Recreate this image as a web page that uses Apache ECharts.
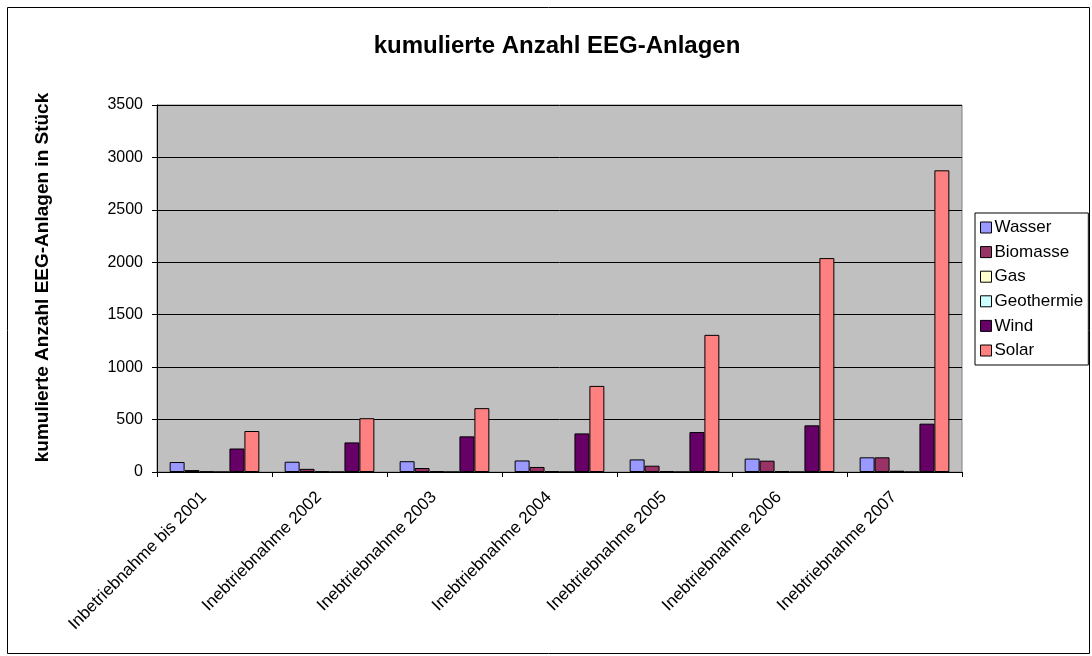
<!DOCTYPE html>
<html>
<head>
<meta charset="utf-8">
<script src="https://cdn.jsdelivr.net/npm/echarts@6/dist/echarts.min.js"></script>
<style>
html,body{margin:0;padding:0;background:#fff;}
#chart{width:1092px;height:656px;}
</style>
</head>
<body>
<div id="chart"></div>
<script>
const categories = ["Inbetriebnahme bis 2001","Inebtriebnahme 2002","Inebtriebnahme 2003","Inebtriebnahme 2004","Inebtriebnahme 2005","Inebtriebnahme 2006","Inebtriebnahme 2007"];
const wasser = [95, 98, 103, 110, 120, 128, 140];
const biomasse = [18, 30, 38, 48, 60, 108, 140];
const gas = [4, 5, 6, 7, 8, 9, 12];
const geothermie = [0, 0, 0, 0, 0, 0, 0];
const wind = [224, 282, 340, 368, 381, 445, 461];
const solar = [391, 513, 609, 821, 1308, 2040, 2877];
const yTicks = [0, 500, 1000, 1500, 2000, 2500, 3000, 3500];

const seriesDefs = [
  {name: "Wasser", data: wasser, color: "#9999FF"},
  {name: "Biomasse", data: biomasse, color: "#993366"},
  {name: "Gas", data: gas, color: "#FFFFCC"},
  {name: "Geothermie", data: geothermie, color: "#CCFFFF"},
  {name: "Wind", data: wind, color: "#660066"},
  {name: "Solar", data: solar, color: "#FF8080"}
];

const font = "Liberation Sans, Arial, sans-serif";
const chart = echarts.init(document.getElementById('chart'));
chart.setOption({
  animation: false,
  backgroundColor: '#fff',
  textStyle: {fontFamily: font},
  graphic: [{
    type: 'rect', left: 5, top: 5,
    shape: {width: 1082, height: 646},
    style: {fill: 'none', stroke: '#000', lineWidth: 1}
  }],
  title: {
    text: 'kumulierte Anzahl EEG-Anlagen',
    left: 552, top: 29, textAlign: 'center',
    textStyle: {fontFamily: font, fontSize: 24, fontWeight: 'bold', color: '#000'}
  },
  legend: {
    orient: 'vertical', left: 975, top: 213,
    itemWidth: 11, itemHeight: 11, itemGap: 7.6,
    borderColor: '#000', borderWidth: 1, padding: [6, 5, 6, 5],
    icon: 'rect',
    textStyle: {fontFamily: font, fontSize: 17, lineHeight: 16, color: '#000', padding: [0,0,0,-2]},
    itemStyle: {borderColor: '#000', borderWidth: 1},
    data: seriesDefs.map(s => s.name)
  },
  grid: {
    left: 157, top: 105, width: 805, height: 367,
    show: true, backgroundColor: '#C0C0C0', borderColor: '#808080', borderWidth: 1,
    containLabel: false
  },
  xAxis: {
    type: 'category', data: categories,
    axisLine: {lineStyle: {color: '#000'}},
    axisTick: {show: true, alignWithLabel: false, length: 5, lineStyle: {color: '#000'}},
    axisLabel: {rotate: 45, fontSize: 17, color: '#000', margin: 12, interval: 0, fontFamily: font, padding: [0, 15, 0, 0]},
    splitLine: {show: false}
  },
  yAxis: {
    type: 'value', min: yTicks[0], max: yTicks[yTicks.length-1], interval: 500,
    name: 'kumulierte Anzahl EEG-Anlagen in Stück',
    nameLocation: 'middle', nameGap: 105, nameRotate: 90,
    nameTextStyle: {fontFamily: font, fontSize: 19, fontWeight: 'bold', color: '#000', padding: [0, 0, 0, 22]},
    axisLine: {show: true, lineStyle: {color: '#000'}},
    axisTick: {show: true, length: 5, lineStyle: {color: '#000'}},
    axisLabel: {fontSize: 16, color: '#000', margin: 14, fontFamily: font, formatter: v => String(v)},
    splitLine: {show: true, lineStyle: {color: '#000', width: 1}}
  },
  series: seriesDefs.map(s => ({
    name: s.name, type: 'bar', data: s.data,
    barGap: '0%', barCategoryGap: '22%',
    itemStyle: {color: s.color, borderColor: '#000', borderWidth: 1}
  }))
});
</script>
</body>
</html>
